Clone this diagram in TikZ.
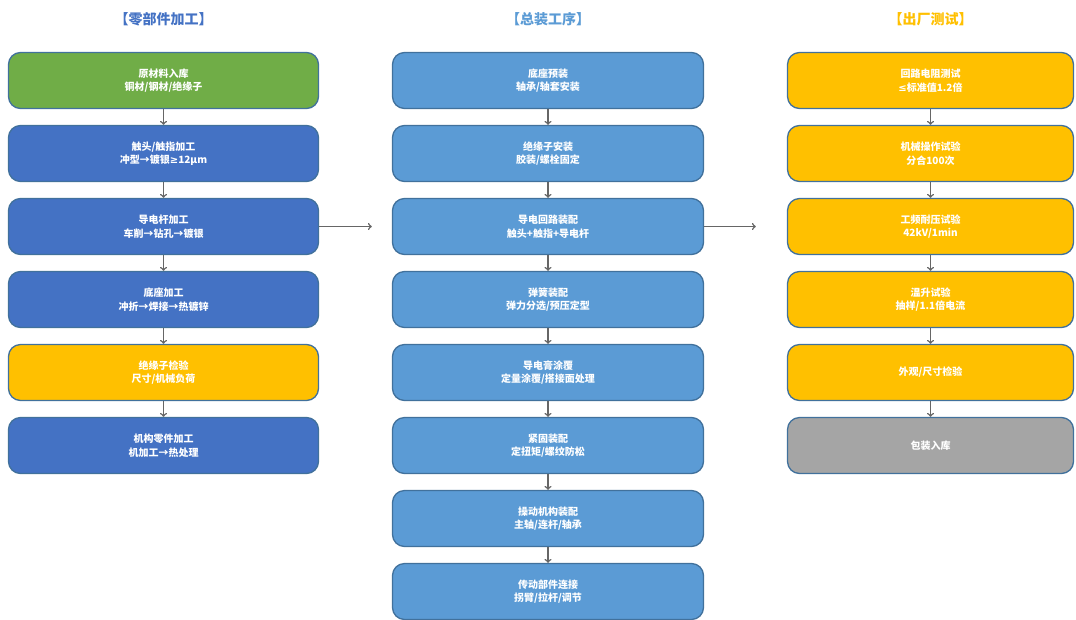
\documentclass[tikz,border=0pt]{standalone}
\usepackage{fontspec}
\setmainfont{Noto Sans CJK SC}
\newfontfamily\mathsym{DejaVu Sans}
\usepackage{tikz}
\usetikzlibrary{positioning}
\definecolor{partgreen}{HTML}{70AD47}
\definecolor{partblue}{HTML}{4472C4}
\definecolor{asmblue}{HTML}{5B9BD5}
\definecolor{testgold}{HTML}{FFC000}
\definecolor{packgrey}{HTML}{A5A5A5}
\definecolor{rimblue}{HTML}{41719C}
\definecolor{flowgrey}{HTML}{666666}

\begin{document}
\begin{tikzpicture}[x=1pt,y=1pt,
    proc/.style={draw=rimblue,line width=1.3pt,rounded corners=12pt,
      minimum width=310pt,minimum height=56pt,text=white,align=center,
      font=\fontsize{10}{13.5}\selectfont\bfseries},
    head/.style={font=\fontsize{14}{16}\selectfont\bfseries},
    flow/.style={arrows=->,line width=1.5pt,draw=flowgrey}]
    \fill[white] (0,0) rectangle (1076,-619);
    \useasboundingbox (0,0) rectangle (1076,-619);
    % column headers
    \node[head,text=partblue] (hparts) at (163.5,-19) {【零部件加工】};
    \node[head,text=asmblue] (hasm) at (548,-19) {【总装工序】};
    \node[head,text=testgold] (htest) at (930.5,-19) {【出厂测试】};
    % parts
    \node[proc,fill=partgreen] (p1) at (163.5,-80.5) {原材料入库\\铜材/钢材/绝缘子};
    \node[proc,fill=partblue,below=15.7pt of p1] (p2) {触头/触指加工\\冲型→镀银{\mathsym ≥}12μm};
    \node[proc,fill=partblue,below=15.7pt of p2] (p3) {导电杆加工\\车削→钻孔→镀银};
    \node[proc,fill=partblue,below=15.7pt of p3] (p4) {底座加工\\冲折→焊接→热镀锌};
    \node[proc,fill=testgold,below=15.7pt of p4] (p5) {绝缘子检验\\尺寸/机械负荷};
    \node[proc,fill=partblue,below=15.7pt of p5] (p6) {机构零件加工\\机加工→热处理};
    % assembly
    \node[proc,fill=asmblue,minimum width=311pt] (m1) at (548,-80.5) {底座预装\\轴承/轴套安装};
    \node[proc,fill=asmblue,minimum width=311pt,below=15.7pt of m1] (m2) {绝缘子安装\\胶装/螺栓固定};
    \node[proc,fill=asmblue,minimum width=311pt,below=15.7pt of m2] (m3) {导电回路装配\\触头+触指+导电杆};
    \node[proc,fill=asmblue,minimum width=311pt,below=15.7pt of m3] (m4) {弹簧装配\\弹力分选/预压定型};
    \node[proc,fill=asmblue,minimum width=311pt,below=15.7pt of m4] (m5) {导电膏涂覆\\定量涂覆/搭接面处理};
    \node[proc,fill=asmblue,minimum width=311pt,below=15.7pt of m5] (m6) {紧固装配\\定扭矩/螺纹防松};
    \node[proc,fill=asmblue,minimum width=311pt,below=15.7pt of m6] (m7) {操动机构装配\\主轴/连杆/轴承};
    \node[proc,fill=asmblue,minimum width=311pt,below=15.7pt of m7] (m8) {传动部件连接\\拐臂/拉杆/调节};
    % tests
    \node[proc,fill=testgold,minimum width=286pt] (t1) at (930.5,-80.5) {回路电阻测试\\{\mathsym ≤}标准值1.2倍};
    \node[proc,fill=testgold,minimum width=286pt,below=15.7pt of t1] (t2) {机械操作试验\\分合100次};
    \node[proc,fill=testgold,minimum width=286pt,below=15.7pt of t2] (t3) {工频耐压试验\\42kV/1min};
    \node[proc,fill=testgold,minimum width=286pt,below=15.7pt of t3] (t4) {温升试验\\抽样/1.1倍电流};
    \node[proc,fill=testgold,minimum width=286pt,below=15.7pt of t4] (t5) {外观/尺寸检验};
    \node[proc,fill=packgrey,minimum width=286pt,below=15.7pt of t5] (t6) {包装入库};
    % arrows
    \foreach \a/\b in {p1/p2,p2/p3,p3/p4,p4/p5,p5/p6,
        m1/m2,m2/m3,m3/m4,m4/m5,m5/m6,m6/m7,m7/m8,
        t1/t2,t2/t3,t3/t4,t4/t5,t5/t6}
      \draw[flow] (\a) -- (\b);
    \draw[flow,shorten >=20pt] (p3) -- (m3);
    \draw[flow,shorten >=31pt] (m3) -- (t3);
\end{tikzpicture}
\end{document}
